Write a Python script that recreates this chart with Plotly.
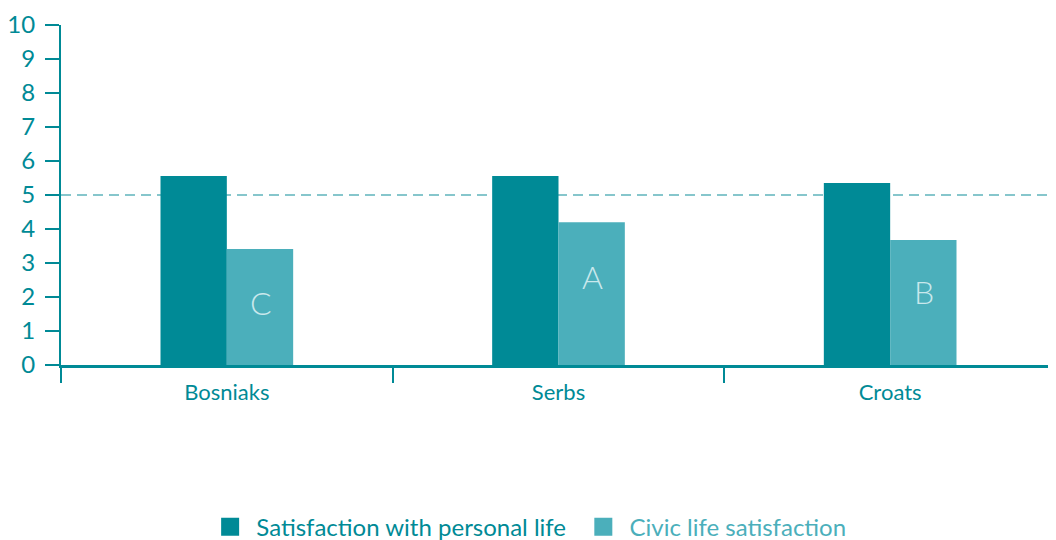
import plotly.graph_objects as go

categories = ["Bosniaks", "Serbs", "Croats"]
personal = [5.56, 5.56, 5.35]
civic = [3.41, 4.2, 3.68]
bar_letters = ["C", "A", "B"]
letter_heights = [1.85, 2.6, 2.15]
series_names = ["Satisfaction with personal life", "Civic life satisfaction"]
yticks = [0, 1, 2, 3, 4, 5, 6, 7, 8, 9, 10]
reference_level = 5

DARK = "#008a96"
LIGHT = "#4bafbb"
FONT = "Lato, 'Open Sans', sans-serif"

fig = go.Figure()
fig.add_trace(go.Bar(x=categories, y=personal, marker=dict(color=DARK, line_width=0),
                     showlegend=False, name=series_names[0]))
fig.add_trace(go.Bar(x=categories, y=civic, marker=dict(color=LIGHT, line_width=0),
                     showlegend=False, name=series_names[1]))

# legend entries
fig.add_trace(go.Scatter(x=[None], y=[None], mode="markers",
                         marker=dict(symbol="square", size=16, color=DARK,
                                     line=dict(color=DARK, width=2)),
                         name="\u00a0" + series_names[0] + "\u00a0\u00a0"))
fig.add_trace(go.Scatter(x=[None], y=[None], mode="markers",
                         marker=dict(symbol="square", size=16, color=LIGHT,
                                     line=dict(color=LIGHT, width=2)),
                         name="<span style='color:%s'>\u00a0%s</span>" % (LIGHT, series_names[1])))

for cat, letter, h in zip(categories, bar_letters, letter_heights):
    fig.add_annotation(x=cat, y=h, xref="x", yref="y", text=letter, showarrow=False,
                       xshift=34, font=dict(size=32, color="#c9e8ec", family=FONT, weight=300))

fig.add_shape(type="line", xref="paper", yref="y", x0=0, x1=1, y0=reference_level,
              y1=reference_level, line=dict(color="#86c6cc", width=2, dash="10px,6px"),
              layer="below")

fig.update_layout(
    width=1048, height=532,
    margin=dict(l=53, r=0, t=17, b=175, autoexpand=False),
    plot_bgcolor="white", paper_bgcolor="white",
    barmode="group", bargap=0.6, bargroupgap=0,
    font=dict(family=FONT, color=DARK),
    legend=dict(orientation="h", x=0.472, xanchor="center", y=-0.477, yanchor="middle",
                font=dict(size=24, color=DARK), itemwidth=30,
                traceorder="normal"),
)
fig.update_xaxes(showline=True, linecolor=DARK, linewidth=3, ticks="outside",
                 tickson="boundaries", ticklen=15, tickcolor=DARK, tickwidth=2,
                 tickfont=dict(size=22, color=DARK), showgrid=False, zeroline=False,
                 ticklabelstandoff=6, automargin=False)
fig.update_yaxes(range=[0, 10], tickvals=yticks, showline=True, linecolor=DARK,
                 linewidth=2, ticks="outside", ticklen=14, tickcolor=DARK, tickwidth=2,
                 tickfont=dict(size=24, color=DARK), showgrid=False, zeroline=False,
                 ticklabelstandoff=5, automargin=False)

fig.write_html("out.html")
